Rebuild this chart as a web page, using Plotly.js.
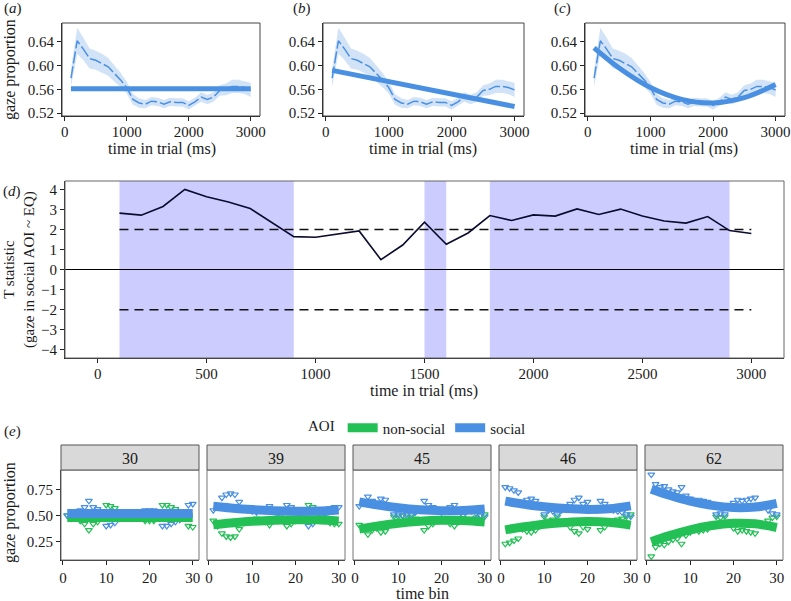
<!DOCTYPE html>
<html><head><meta charset="utf-8">
<script src="https://cdn.plot.ly/plotly-3.0.1.min.js"></script>
<style>html,body{margin:0;padding:0;background:#fff}#chart{width:791px;height:601px}</style>
</head><body><div id="chart"></div>
<script>
// ---------- data: panels (a)-(c) ----------
const timeMs = [100,200,300,400,500,600,700,800,900,1000,1100,1200,1300,1400,1500,1600,1700,1800,1900,2000,2100,2200,2300,2400,2500,2600,2700,2800,2900,3000];
const gazeMean = [0.579,0.642,0.628,0.612,0.609,0.604,0.598,0.587,0.576,0.563,0.543,0.537,0.535,0.540,0.539,0.535,0.539,0.538,0.538,0.533,0.539,0.547,0.543,0.547,0.558,0.560,0.565,0.565,0.563,0.559];
const gazeCiHalf = [0.015,0.022,0.019,0.017,0.016,0.016,0.015,0.014,0.012,0.010,0.009,0.008,0.007,0.007,0.007,0.007,0.007,0.007,0.007,0.007,0.007,0.008,0.008,0.008,0.009,0.010,0.011,0.011,0.011,0.012];
const fitAx = [100,3000], fitAy = [0.561,0.561];
const fitBx = [100,3000], fitBy = [0.592,0.531];
const fitCx = [100,500,1000,1500,2000,2500,3000], fitCy = [0.630,0.596,0.563,0.543,0.537,0.546,0.568];

// ---------- data: panel (d) ----------
const tStat = [2.82,2.72,3.15,4.00,3.63,3.37,3.05,2.35,1.65,1.62,1.78,1.93,0.50,1.23,2.37,1.27,1.83,2.70,2.45,2.73,2.67,3.03,2.75,3.02,2.68,2.43,2.32,2.65,1.95,1.80];
const sigStart = [100,1500,1800];
const sigEnd = [900,1600,2900];
const threshX = [100,3000], threshUpper = [2,2], threshLower = [-2,-2];

// ---------- data: panel (e) ----------
const facetLabels = ['30','39','45','46','62'];
const timeBin = [1,2,3,4,5,6,7,8,9,10,11,12,13,14,15,16,17,18,19,20,21,22,23,24,25,26,27,28,29,30];
const social30 = [0.50,0.53,0.52,0.55,0.58,0.64,0.58,0.56,0.52,0.40,0.41,0.43,0.47,0.50,0.48,0.47,0.48,0.51,0.55,0.55,0.55,0.51,0.40,0.40,0.42,0.44,0.46,0.50,0.60,0.61];
const nonSocial30 = [0.50,0.47,0.48,0.45,0.42,0.36,0.42,0.44,0.48,0.60,0.59,0.57,0.53,0.50,0.52,0.53,0.52,0.49,0.45,0.45,0.45,0.49,0.60,0.60,0.58,0.56,0.54,0.50,0.40,0.39];
const social39 = [0.55,0.60,0.67,0.70,0.71,0.70,0.63,0.57,0.55,0.54,0.53,0.55,0.56,0.59,0.55,0.52,0.53,0.60,0.58,0.55,0.52,0.50,0.40,0.42,0.47,0.51,0.52,0.57,0.58,0.58];
const nonSocial39 = [0.45,0.40,0.33,0.30,0.29,0.30,0.37,0.43,0.45,0.46,0.47,0.45,0.44,0.41,0.45,0.48,0.47,0.40,0.42,0.45,0.48,0.50,0.60,0.58,0.53,0.49,0.48,0.43,0.42,0.42];
const social45 = [0.59,0.62,0.68,0.64,0.62,0.66,0.65,0.58,0.51,0.51,0.50,0.51,0.51,0.53,0.55,0.64,0.60,0.58,0.54,0.53,0.55,0.58,0.60,0.56,0.50,0.45,0.46,0.48,0.50,0.49];
const nonSocial45 = [0.41,0.38,0.32,0.36,0.38,0.34,0.35,0.42,0.49,0.49,0.50,0.49,0.49,0.47,0.45,0.36,0.40,0.42,0.46,0.47,0.45,0.42,0.40,0.44,0.50,0.55,0.54,0.52,0.50,0.51];
const social46 = [0.77,0.76,0.74,0.72,0.63,0.65,0.66,0.64,0.60,0.51,0.55,0.54,0.51,0.55,0.56,0.61,0.65,0.67,0.61,0.63,0.56,0.55,0.64,0.61,0.56,0.55,0.54,0.53,0.51,0.49];
const nonSocial46 = [0.23,0.24,0.26,0.28,0.37,0.35,0.34,0.36,0.40,0.49,0.45,0.46,0.49,0.45,0.44,0.39,0.35,0.33,0.39,0.37,0.44,0.45,0.36,0.39,0.44,0.45,0.46,0.47,0.49,0.51];
const social62 = [0.89,0.80,0.77,0.78,0.75,0.73,0.72,0.77,0.69,0.66,0.64,0.65,0.64,0.63,0.60,0.51,0.52,0.51,0.58,0.62,0.65,0.64,0.65,0.66,0.67,0.58,0.59,0.55,0.52,0.51];
const nonSocial62 = [0.11,0.20,0.23,0.22,0.25,0.27,0.28,0.23,0.31,0.34,0.36,0.35,0.36,0.37,0.40,0.49,0.48,0.49,0.42,0.38,0.35,0.36,0.35,0.34,0.33,0.42,0.41,0.45,0.48,0.49];
const fitBins = [1,5,10,15,20,25,30];
const fitSocial30 = [0.520,0.520,0.520,0.520,0.520,0.520,0.520];
const fitNonSocial30 = [0.480,0.480,0.480,0.480,0.480,0.480,0.480];
const fitSocial39 = [0.588,0.572,0.556,0.545,0.540,0.542,0.552];
const fitNonSocial39 = [0.412,0.428,0.444,0.455,0.460,0.458,0.448];
const fitSocial45 = [0.630,0.602,0.574,0.555,0.546,0.548,0.562];
const fitNonSocial45 = [0.370,0.398,0.426,0.445,0.454,0.452,0.438];
const fitSocial46 = [0.637,0.610,0.583,0.566,0.558,0.565,0.592];
const fitNonSocial46 = [0.363,0.390,0.417,0.434,0.442,0.435,0.408];
const fitSocial62 = [0.750,0.695,0.637,0.596,0.575,0.580,0.615];
const fitNonSocial62 = [0.250,0.305,0.363,0.404,0.425,0.420,0.385];

// ---------- layout helpers ----------
const W = 791, H = 601;
const FONT = '"Liberation Serif", "Times New Roman", Times, serif';
const TF = {family: FONT, size: 15, color: '#1a1a1a'};
const BLUE = '#4a90e2', GREEN = '#22c055';
const px = (x) => x / W;
const py = (y) => 1 - y / H;
function dom(a, b) { return [px(a), px(b)]; }
function domY(top, bottom) { return [py(bottom), py(top)]; }
function axis(extra) {
  return Object.assign({showline: true, linecolor: '#222', linewidth: 1, mirror: false,
    ticks: 'outside', ticklen: 4, tickwidth: 1, tickcolor: '#222', showgrid: false,
    zeroline: false, tickfont: TF, fixedrange: true}, extra);
}

const traces = [];
const layout = {
  width: W, height: H, margin: {l: 0, r: 0, t: 0, b: 0},
  paper_bgcolor: '#fff', plot_bgcolor: '#fff', font: {family: FONT, size: 15, color: '#1a1a1a'},
  showlegend: true,
  legend: {orientation: 'h', x: px(306), xanchor: 'left', y: py(428), yanchor: 'middle',
    title: {text: 'AOI', side: 'left', font: {family: FONT, size: 15}},
    font: {family: FONT, size: 15}, itemwidth: 30, tracegroupgap: 0, bgcolor: 'rgba(0,0,0,0)'},
  shapes: [], annotations: []
};

function border(x0, x1, y0, y1, color) {
  layout.shapes.push({type: 'rect', xref: 'paper', yref: 'paper', x0: px(x0), x1: px(x1),
    y0: py(y1), y1: py(y0), line: {color: color || '#555', width: 1}, fillcolor: 'rgba(0,0,0,0)', layer: 'above'});
}
function ann(text, x, y, opt) {
  layout.annotations.push(Object.assign({text: text, x: px(x), y: py(y), xref: 'paper', yref: 'paper',
    showarrow: false, font: {family: FONT, size: 16, color: '#1a1a1a'}, xanchor: 'center', yanchor: 'middle'}, opt || {}));
}

// ---------- panels (a) (b) (c) ----------
const topPanels = [
  {ax: '', xd: [62, 260], fx: fitAx, fy: fitAy, fshape: 'linear', label: '(<i>a</i>)', lx: 2, tx: 162},
  {ax: '2', xd: [323, 524], fx: fitBx, fy: fitBy, fshape: 'linear', label: '(<i>b</i>)', lx: 291, tx: 423},
  {ax: '3', xd: [585, 785], fx: fitCx, fy: fitCy, fshape: 'spline', label: '(<i>c</i>)', lx: 552, tx: 684}
];
const gazeLower = gazeMean.map((m, i) => m - gazeCiHalf[i]);
const gazeUpper = gazeMean.map((m, i) => m + gazeCiHalf[i]);
topPanels.forEach((p) => {
  const xa = 'x' + p.ax, ya = 'y' + p.ax;
  traces.push({x: timeMs, y: gazeLower, xaxis: xa, yaxis: ya, mode: 'lines', line: {width: 0, color: BLUE}, showlegend: false, hoverinfo: 'skip'});
  traces.push({x: timeMs, y: gazeUpper, xaxis: xa, yaxis: ya, mode: 'lines', line: {width: 0, color: BLUE}, fill: 'tonexty', fillcolor: 'rgba(74,144,226,0.25)', showlegend: false, hoverinfo: 'skip'});
  traces.push({x: timeMs, y: gazeMean, xaxis: xa, yaxis: ya, mode: 'lines', line: {width: 1.5, color: BLUE, dash: '12px,3px'}, showlegend: false});
  traces.push({x: p.fx, y: p.fy, xaxis: xa, yaxis: ya, mode: 'lines', line: {width: 5, color: BLUE, shape: p.fshape, smoothing: 1}, showlegend: false});
  layout['xaxis' + p.ax] = axis({domain: dom(p.xd[0], p.xd[1]), range: [-45, 3150], tickvals: [0, 1000, 2000, 3000], anchor: 'y' + p.ax, ticklabelstandoff: -2});
  layout['yaxis' + p.ax] = axis({domain: domY(23, 116), range: [0.515, 0.672], tickvals: [0.52, 0.56, 0.60, 0.64], tickformat: '.2f', anchor: 'x' + p.ax});
  border(p.xd[0], p.xd[1], 23, 116, '#444');
  ann(p.label, p.lx, 9, {xanchor: 'left', font: {family: FONT, size: 15, color: '#1a1a1a'}});
  ann('time in trial (ms)', p.tx, 149);
});
ann('gaze proportion', 10, 70, {textangle: -90});

// ---------- panel (d) ----------
sigStart.forEach((s, i) => {
  layout.shapes.push({type: 'rect', xref: 'x4', yref: 'y4 domain', x0: s, x1: sigEnd[i], y0: 0, y1: 1,
    fillcolor: '#ccccff', line: {width: 0}, layer: 'below'});
});
traces.push({x: threshX, y: threshUpper, xaxis: 'x4', yaxis: 'y4', mode: 'lines', line: {color: '#111', width: 1.5, dash: '9px,6px'}, showlegend: false});
traces.push({x: threshX, y: threshLower, xaxis: 'x4', yaxis: 'y4', mode: 'lines', line: {color: '#111', width: 1.5, dash: '9px,6px'}, showlegend: false});
traces.push({x: timeMs, y: tStat, xaxis: 'x4', yaxis: 'y4', mode: 'lines', line: {color: '#0b0b2e', width: 1.6}, showlegend: false});
layout.xaxis4 = axis({domain: dom(65, 784), range: [-150, 3150], tickvals: [0, 500, 1000, 1500, 2000, 2500, 3000], anchor: 'y4', ticklabelstandoff: -2});
layout.yaxis4 = axis({domain: domY(181, 358), range: [-4.40, 4.42], tickvals: [-4, -3, -2, -1, 0, 1, 2, 3, 4], anchor: 'x4',
  zeroline: true, zerolinecolor: '#000', zerolinewidth: 1.5});
border(65, 784, 181, 358, '#666');
ann('(<i>d</i>)', 1, 192, {xanchor: 'left', font: {family: FONT, size: 15, color: '#1a1a1a'}});
ann('T statistic<br>(gaze in social AOI ~ EQ)', 19, 270, {textangle: -90, font: {family: FONT, size: 15, color: '#1a1a1a'}});
ann('time in trial (ms)', 424, 391);

// ---------- panel (e) ----------
const facetX = [[61, 199], [207, 345], [353, 491], [499, 637], [645, 783]];
const socialSets = [social30, social39, social45, social46, social62];
const nonSocialSets = [nonSocial30, nonSocial39, nonSocial45, nonSocial46, nonSocial62];
const fitSocialSets = [fitSocial30, fitSocial39, fitSocial45, fitSocial46, fitSocial62];
const fitNonSocialSets = [fitNonSocial30, fitNonSocial39, fitNonSocial45, fitNonSocial46, fitNonSocial62];
facetLabels.forEach((lab, i) => {
  const n = String(5 + i);
  const xa = 'x' + n, ya = 'y' + n;
  traces.push({x: timeBin, y: nonSocialSets[i], xaxis: xa, yaxis: ya, mode: 'markers',
    marker: {symbol: 'triangle-down-open', size: 6, color: GREEN, line: {width: 1.2}}, showlegend: false});
  traces.push({x: timeBin, y: socialSets[i], xaxis: xa, yaxis: ya, mode: 'markers',
    marker: {symbol: 'triangle-down-open', size: 6, color: BLUE, line: {width: 1.2}}, showlegend: false});
  traces.push({x: fitBins, y: fitNonSocialSets[i], xaxis: xa, yaxis: ya, mode: 'lines', name: 'non-social',
    legendgroup: 'ns', showlegend: i === 0, line: {color: GREEN, width: 9, shape: 'spline', smoothing: 1}});
  traces.push({x: fitBins, y: fitSocialSets[i], xaxis: xa, yaxis: ya, mode: 'lines', name: 'social',
    legendgroup: 's', showlegend: i === 0, line: {color: BLUE, width: 9, shape: 'spline', smoothing: 1}});
  layout['xaxis' + n] = axis({domain: dom(facetX[i][0], facetX[i][1]), range: [-0.45, 31.45], tickvals: [0, 10, 20, 30], anchor: ya});
  layout['yaxis' + n] = axis(i === 0 ?
    {domain: domY(470, 560), range: [0.075, 0.934], tickvals: [0.25, 0.5, 0.75], tickformat: '.2f', anchor: xa} :
    {domain: domY(470, 560), range: [0.075, 0.934], showline: false, ticks: '', showticklabels: false, anchor: xa});
  border(facetX[i][0], facetX[i][1], 470, 560, '#777');
  layout.shapes.push({type: 'rect', xref: 'paper', yref: 'paper', x0: px(facetX[i][0]), x1: px(facetX[i][1]),
    y0: py(470), y1: py(445), fillcolor: '#d9d9d9', line: {color: '#555', width: 1}, layer: 'above'});
  ann(lab, (facetX[i][0] + facetX[i][1]) / 2, 458, {font: {family: FONT, size: 16, color: '#1a1a1a'}});
});
ann('(<i>e</i>)', 2, 431, {xanchor: 'left', font: {family: FONT, size: 15, color: '#1a1a1a'}});
ann('gaze proportion', 10, 513, {textangle: -90});
ann('time bin', 422, 593);

Plotly.newPlot('chart', traces, layout, {displayModeBar: false, staticPlot: true});
</script></body></html>
